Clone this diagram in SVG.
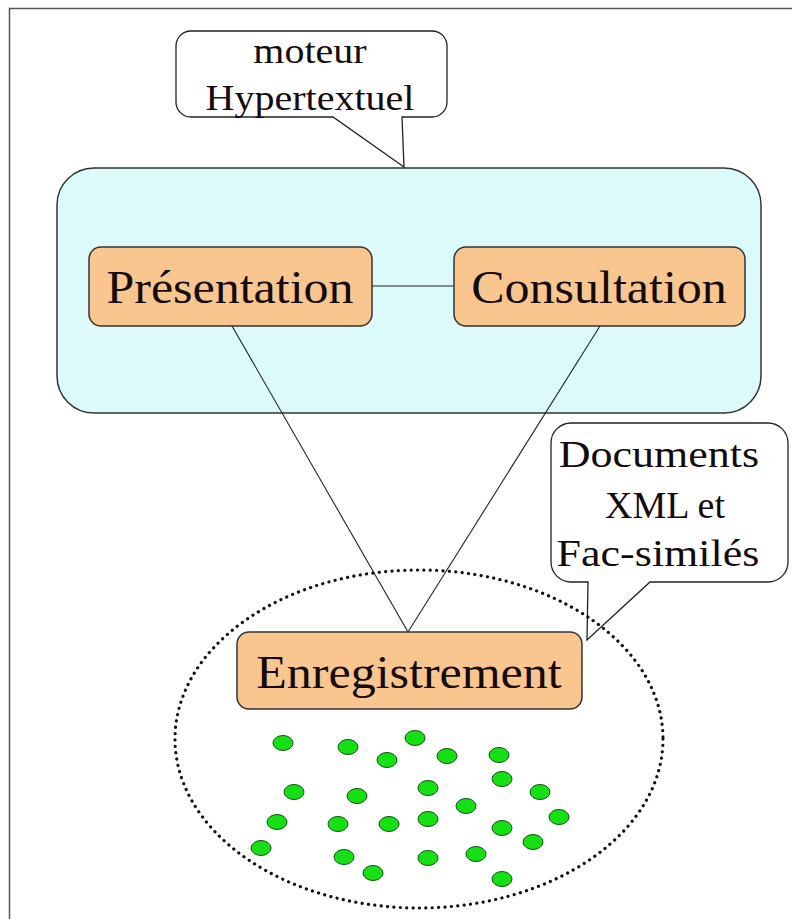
<svg xmlns="http://www.w3.org/2000/svg" width="792" height="919" viewBox="0 0 792 919">
<style>
.frame{fill:none;stroke:#555;stroke-width:1.5}
.box{fill:#fac690;stroke:#333;stroke-width:1.5}
.callout{fill:#fff;stroke:#222;stroke-width:1.3}
.lbl{font-family:"Liberation Serif","Times New Roman",serif;fill:#140a0a;text-anchor:middle}
.conn{stroke:#222;stroke-width:1.1;fill:none}
.dot{fill:#14e014;stroke:#145014;stroke-width:1}
</style>
<rect width="792" height="919" fill="#fff"/>
<path class="frame" d="M9.5,919 V8.5 H792"/>
<g id="moteur">
<rect x="57" y="168" width="704" height="245" rx="37" ry="37" fill="#dcfafa" stroke="#333" stroke-width="1.5"/>
</g>
<g id="callout-moteur">
<path class="callout" d="M191,31 H432 A15,15 0 0 1 447,46 V102 A15,15 0 0 1 432,117 H402 L404,167 L333,117 H191 A15,15 0 0 1 176,102 V46 A15,15 0 0 1 191,31 Z"/>
<text class="lbl" font-size="40" transform="translate(310,63) scale(1,0.9)">moteur</text>
<text class="lbl" font-size="40" transform="translate(310,110) scale(1,0.9)">Hypertextuel</text>
</g>
<g id="callout-documents">
<path class="callout" d="M571,423 H768 A20,20 0 0 1 788,443 V562 A20,20 0 0 1 768,582 H650 L587,640 L588,582 H571 A20,20 0 0 1 551,562 V443 A20,20 0 0 1 571,423 Z"/>
<text class="lbl" font-size="44" transform="translate(659,467) scale(1,0.88)">Documents</text>
<text class="lbl" font-size="44" transform="translate(665,518) scale(1,0.88)" textLength="120" lengthAdjust="spacingAndGlyphs">XML et</text>
<text class="lbl" font-size="44" transform="translate(658,566) scale(1,0.88)">Fac-similés</text>
</g>
<g id="connectors">
<line class="conn" x1="372" y1="286" x2="454" y2="286"/>
<line class="conn" x1="232" y1="326" x2="408" y2="632"/>
<line class="conn" x1="600" y1="326" x2="408" y2="632"/>
</g>
<g id="presentation">
<rect class="box" x="89" y="247" width="283" height="79" rx="12" ry="12"/>
<text class="lbl" font-size="50" transform="translate(230,303) scale(1,0.92)">Présentation</text>
</g>
<g id="consultation">
<rect class="box" x="454" y="247" width="291" height="79" rx="12" ry="12"/>
<text class="lbl" font-size="50" transform="translate(599,303) scale(1,0.92)">Consultation</text>
</g>
<g id="stockage">
<ellipse cx="419" cy="739" rx="244" ry="169" fill="none" stroke="#111" stroke-width="3.2" stroke-dasharray="0.1 6.3" stroke-linecap="round"/>
<g id="enregistrement">
<rect class="box" x="237" y="632" width="345" height="77" rx="12" ry="12"/>
<text class="lbl" font-size="50" transform="translate(409,688) scale(1,0.92)">Enregistrement</text>
</g>
<g id="documents-dots">
<ellipse class="dot" cx="283" cy="743" rx="10" ry="7.5"/>
<ellipse class="dot" cx="348" cy="747" rx="10" ry="7.5"/>
<ellipse class="dot" cx="387" cy="760" rx="10" ry="7.5"/>
<ellipse class="dot" cx="415" cy="738" rx="10" ry="7.5"/>
<ellipse class="dot" cx="447" cy="756" rx="10" ry="7.5"/>
<ellipse class="dot" cx="499" cy="755" rx="10" ry="7.5"/>
<ellipse class="dot" cx="502" cy="779" rx="10" ry="7.5"/>
<ellipse class="dot" cx="294" cy="792" rx="10" ry="7.5"/>
<ellipse class="dot" cx="357" cy="796" rx="10" ry="7.5"/>
<ellipse class="dot" cx="428" cy="788" rx="10" ry="7.5"/>
<ellipse class="dot" cx="466" cy="806" rx="10" ry="7.5"/>
<ellipse class="dot" cx="540" cy="792" rx="10" ry="7.5"/>
<ellipse class="dot" cx="277" cy="822" rx="10" ry="7.5"/>
<ellipse class="dot" cx="338" cy="824" rx="10" ry="7.5"/>
<ellipse class="dot" cx="389" cy="824" rx="10" ry="7.5"/>
<ellipse class="dot" cx="428" cy="819" rx="10" ry="7.5"/>
<ellipse class="dot" cx="502" cy="828" rx="10" ry="7.5"/>
<ellipse class="dot" cx="559" cy="817" rx="10" ry="7.5"/>
<ellipse class="dot" cx="261" cy="848" rx="10" ry="7.5"/>
<ellipse class="dot" cx="533" cy="842" rx="10" ry="7.5"/>
<ellipse class="dot" cx="344" cy="857" rx="10" ry="7.5"/>
<ellipse class="dot" cx="373" cy="873" rx="10" ry="7.5"/>
<ellipse class="dot" cx="428" cy="858" rx="10" ry="7.5"/>
<ellipse class="dot" cx="476" cy="854" rx="10" ry="7.5"/>
<ellipse class="dot" cx="502" cy="879" rx="10" ry="7.5"/>
</g>
</g>
</svg>
